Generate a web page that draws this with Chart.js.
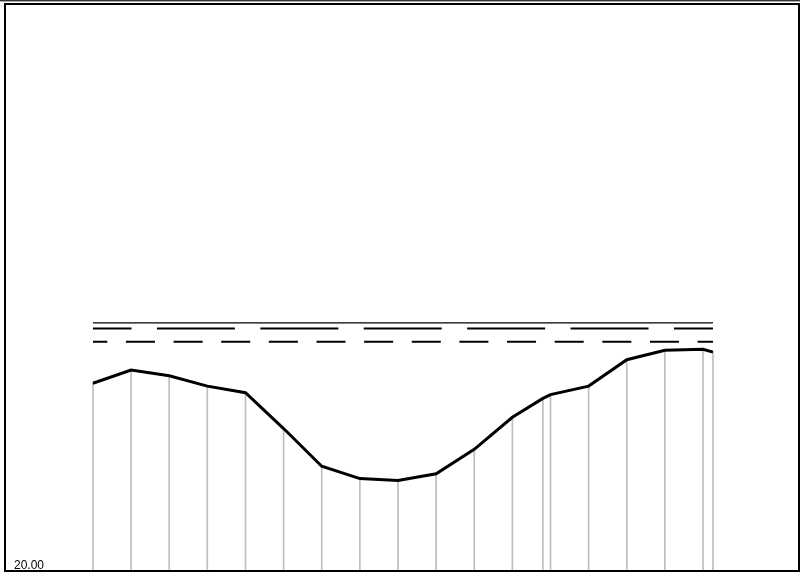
<!DOCTYPE html>
<html>
<head>
<meta charset="utf-8">
<script src="https://cdn.jsdelivr.net/npm/chart.js@4.4.0/dist/chart.umd.min.js"></script>
<style>
    body { margin: 0; background: #fff; }
    canvas { display: block; }
</style>
</head>
<body>
<canvas id="grafico" width="800" height="572"></canvas>
<script>
    // dados
    const posicoes = [0, 1, 2, 3, 4, 5, 6, 7, 8, 9, 10, 11, 11.8, 12, 13, 14, 15, 16, 16.26];
    const valores = [39.9, 41.3, 40.7, 39.6, 38.9, 35.1, 31.1, 29.8, 29.6, 30.3, 32.9, 36.3, 38.3, 38.7, 39.6, 42.4, 43.4, 43.5, 43.2];
    const limiteSuperior = 46.3;
    const linhaTracejada = 45.7;
    const linhaPontilhada = 44.3;
    const ticksY = [20];
    const minY = 20, maxY = 80;
    const minX = -2.28, maxX = 18.49;

    function pontos(xs, ys) {
        return xs.map(function(x, i) { return { x: x, y: ys[i] }; });
    }

    function linhaHorizontal(valor) {
        return [
            { x: posicoes[0], y: valor },
            { x: posicoes[posicoes.length - 1], y: valor }
        ];
    }

    // moldura em volta do grafico
    const moldura = {
        id: 'moldura',
        afterDraw: function(chart) {
            const ctx = chart.ctx;
            ctx.save();
            ctx.fillStyle = '#333333';
            ctx.fillRect(0, 0, 800, 1);
            ctx.fillStyle = '#aaaaaa';
            ctx.fillRect(0, 1, 800, 1);
            ctx.strokeStyle = '#000000';
            ctx.lineWidth = 2;
            ctx.strokeRect(5, 4, 794, 567);
            ctx.restore();
        }
    };

    function criargrafico(canvasID) {
        const ctx = document.getElementById(canvasID).getContext('2d');

        new Chart(ctx, {
            type: 'line',
            data: {
                datasets: [
                    {
                        label: 'valores',
                        data: pontos(posicoes, valores),
                        borderColor: '#000000',
                        borderWidth: 3,
                        pointRadius: 0,
                        tension: 0,
                        fill: false,
                        order: 1
                    },
                    {
                        label: 'limite',
                        data: linhaHorizontal(limiteSuperior),
                        borderColor: '#000000',
                        borderWidth: 1.3,
                        pointRadius: 0,
                        fill: false,
                        order: 2
                    },
                    {
                        label: 'tracejada',
                        data: linhaHorizontal(linhaTracejada),
                        borderColor: '#000000',
                        borderWidth: 2,
                        borderDash: [78, 25.4],
                        borderDashOffset: 39.4,
                        pointRadius: 0,
                        fill: false,
                        order: 2
                    },
                    {
                        label: 'pontilhada',
                        data: linhaHorizontal(linhaPontilhada),
                        borderColor: '#000000',
                        borderWidth: 2,
                        borderDash: [29, 18.64],
                        borderDashOffset: 14.64,
                        pointRadius: 0,
                        fill: false,
                        order: 2
                    },
                    {
                        type: 'bar',
                        label: 'hastes',
                        data: pontos(posicoes, valores),
                        backgroundColor: '#bdbdbd',
                        borderWidth: 0,
                        barThickness: 1,
                        base: minY,
                        order: 3
                    }
                ]
            },
            options: {
                responsive: false,
                animation: false,
                devicePixelRatio: 1,
                layout: {
                    padding: { left: 6, right: 2, top: 5, bottom: 1 }
                },
                plugins: {
                    legend: { display: false },
                    tooltip: { enabled: false }
                },
                scales: {
                    x: {
                        type: 'linear',
                        display: false,
                        offset: false,
                        min: minX,
                        max: maxX
                    },
                    y: {
                        type: 'linear',
                        min: minY,
                        max: maxY,
                        grid: { display: false, drawTicks: false },
                        border: { display: false },
                        ticks: {
                            mirror: true,
                            padding: 8,
                            labelOffset: -5,
                            color: '#000000',
                            font: { family: 'Liberation Sans', size: 12 },
                            callback: function(value) {
                                return value.toFixed(2);
                            }
                        },
                        afterBuildTicks: function(scale) {
                            scale.ticks = ticksY.map(function(v) { return { value: v }; });
                        },
                        afterFit: function(scale) {
                            scale.width = 0;
                            scale.paddingTop = 0;
                            scale.paddingBottom = 0;
                        }
                    }
                }
            },
            plugins: [moldura]
        });
    }

    criargrafico('grafico');
</script>
</body>
</html>
